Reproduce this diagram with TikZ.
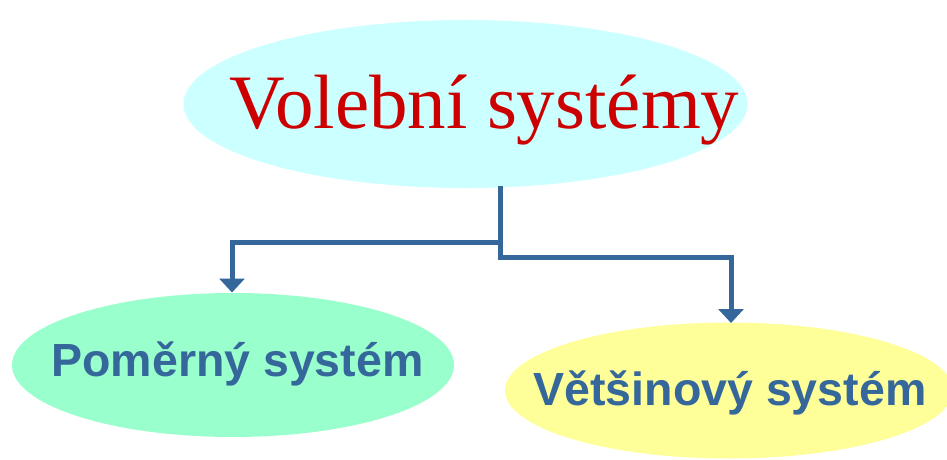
\documentclass[tikz,border=0pt]{standalone}
\usepackage{fontspec}
\newfontfamily\serifT{Liberation Serif}
\newfontfamily\sansT{Liberation Sans}
\usetikzlibrary{shapes.geometric,arrows.meta}
\definecolor{cyanfill}{HTML}{CCFFFF}
\definecolor{greenfill}{HTML}{99FFCC}
\definecolor{yellowfill}{HTML}{FFFF99}
\definecolor{titlered}{HTML}{CC0000}
\definecolor{linkblue}{HTML}{35679A}
\tikzset{
  blob/.style={ellipse, draw=none, inner sep=0pt},
  titletext/.style={anchor=base, inner sep=0pt, text=titlered, font=\serifT\fontsize{77}{80}\selectfont},
  subtext/.style={anchor=base, inner sep=0pt, text=linkblue, font=\sansT\bfseries\fontsize{46.5}{50}\selectfont},
  link/.style={draw=linkblue, line width=5pt, line join=miter},
  linkarrow/.style={link, -{Triangle[width=25pt,length=14pt]}}
}
\begin{document}
\begin{tikzpicture}[x=1pt,y=-1pt]
\useasboundingbox (0,0) rectangle (947,460);
% ellipses
\node[blob, fill=cyanfill, minimum width=564pt, minimum height=168pt] (top) at (465.5,104) {};
\node[blob, fill=greenfill, minimum width=442pt, minimum height=144pt] (left) at (233,365) {};
\node[blob, fill=yellowfill, minimum width=448pt, minimum height=136pt] (right) at (729,390.5) {};
% texts
\node[titletext] (toptext) at (484.5,128) {Volebn\'{\i} syst\'emy};
\node[subtext] (lefttext) at (237.5,376) {Poměrný systém};
\node[subtext] (righttext) at (730,405) {Většinový systém};
% connectors
\coordinate (s) at (500,186);
\coordinate (j) at (500,242);
\coordinate (lt) at (232,292.5);
\coordinate (rt) at (731,323);
\draw[linkarrow] (s) -- (500,257) -- (731,257) -- (rt);
\draw[linkarrow] (j) -- (232,242) -- (lt);
\end{tikzpicture}
\end{document}
